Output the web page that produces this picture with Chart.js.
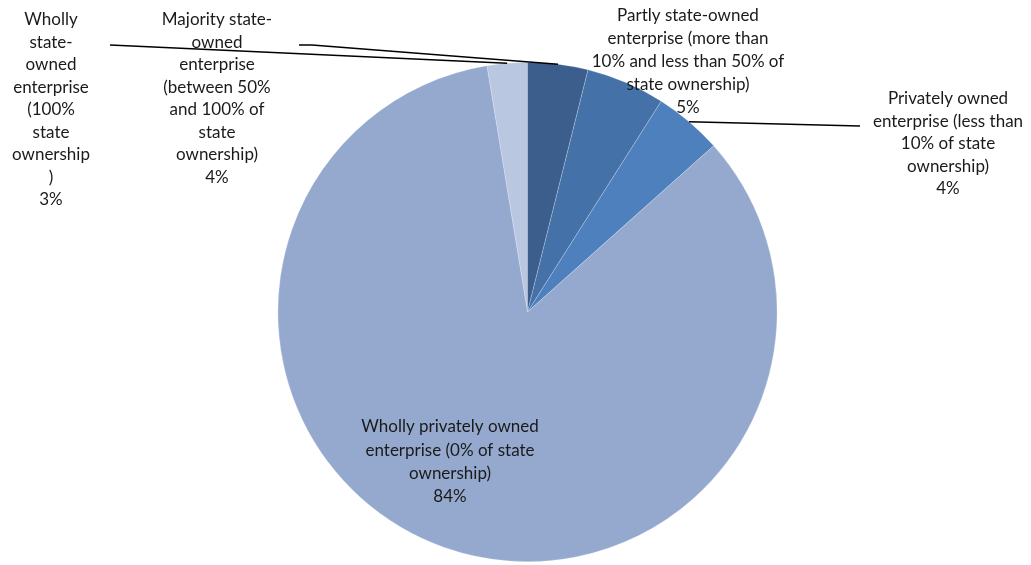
<!DOCTYPE html>
<html>
<head>
<meta charset="utf-8">
<script src="https://cdn.jsdelivr.net/npm/chart.js@4"></script>
<style>
  html, body { margin: 0; padding: 0; background: #ffffff; }
  #wrap { width: 1031px; height: 565px; position: relative; }
</style>
</head>
<body>
<div id="wrap"><canvas id="c" width="1031" height="565"></canvas></div>
<script>
// Ownership categories, in data order
const categories = [
  'Wholly state-owned enterprise (100% state ownership)',
  'Majority state-owned enterprise (between 50% and 100% of state ownership)',
  'Partly state-owned enterprise (more than 10% and less than 50% of state ownership)',
  'Privately owned enterprise (less than 10% of state ownership)',
  'Wholly privately owned enterprise (0% of state ownership)'
];

// Share of enterprises, percent
const shares = [2.6, 3.9, 5.1, 4.4, 84.0];

// Wrapped label text for each category
const labelLines = [
  ['Wholly', 'state-', 'owned', 'enterprise', '(100%', 'state', 'ownership', ')'],
  ['Majority state-', 'owned', 'enterprise', '(between 50%', 'and 100% of', 'state', 'ownership)'],
  ['Partly state-owned', 'enterprise (more than', '10% and less than 50% of', 'state ownership)'],
  ['Privately owned', 'enterprise (less than', '10% of state', 'ownership)'],
  ['Wholly privately owned', 'enterprise (0% of state', 'ownership)']
];

const sliceColors = ['#b9c7e0', '#3b5e8c', '#4471a7', '#4e80bd', '#95a9cf'];

// Placement of each label block and its leader line (null = no leader)
const labelLayout = [
  { cx: 51,  top: 20, step: 22.5, leader: [[110, 45]] },
  { cx: 217, top: 20, step: 22.5, leader: [[299, 45], [312, 45]] },
  { cx: 688, top: 16, step: 22.8, leader: null },
  { cx: 948, top: 99, step: 22.5, leader: [[860, 126]] },
  { cx: 450, top: 427, step: 23.3, leader: null }
];

const total = shares.reduce((a, b) => a + b, 0);
// The first slice ends at twelve o'clock; the rest follow clockwise
const startRotation = -shares[0] / total * 360;

const pieLabels = {
  id: 'pieLabels',
  afterDatasetsDraw(chart) {
    const ctx = chart.ctx;
    const arcs = chart.getDatasetMeta(0).data;
    ctx.save();
    // leader lines
    ctx.strokeStyle = '#000000';
    ctx.lineWidth = 1.5;
    arcs.forEach((arc, i) => {
      const lay = labelLayout[i];
      if (!lay.leader) return;
      const p = arc.getProps(['x', 'y', 'startAngle', 'endAngle', 'outerRadius'], true);
      const mid = (p.startAngle + p.endAngle) / 2;
      const ex = p.x + Math.cos(mid) * p.outerRadius;
      const ey = p.y + Math.sin(mid) * p.outerRadius;
      ctx.beginPath();
      ctx.moveTo(lay.leader[0][0], lay.leader[0][1]);
      for (let k = 1; k < lay.leader.length; k++) ctx.lineTo(lay.leader[k][0], lay.leader[k][1]);
      ctx.lineTo(ex, ey);
      ctx.stroke();
    });
    // label text
    ctx.fillStyle = '#1a1a1a';
    ctx.font = '17px Lato, "Open Sans", sans-serif';
    ctx.textAlign = 'center';
    ctx.textBaseline = 'middle';
    arcs.forEach((arc, i) => {
      const lay = labelLayout[i];
      const pct = Math.round(shares[i] / total * 100) + '%';
      const lines = labelLines[i].concat([pct]);
      lines.forEach((t, k) => ctx.fillText(t, lay.cx, lay.top + k * lay.step));
    });
    ctx.restore();
  }
};

new Chart(document.getElementById('c'), {
  type: 'pie',
  data: {
    labels: categories,
    datasets: [{
      data: shares,
      backgroundColor: sliceColors,
      borderColor: 'rgba(255,255,255,0.3)',
      borderWidth: 0.75
    }]
  },
  options: {
    responsive: false,
    animation: false,
    rotation: startRotation,
    layout: { padding: { left: 24, right: 0, top: 62, bottom: 3 } },
    plugins: {
      legend: { display: false },
      tooltip: { enabled: false },
      title: { display: false }
    }
  },
  plugins: [pieLabels]
});
</script>
</body>
</html>
